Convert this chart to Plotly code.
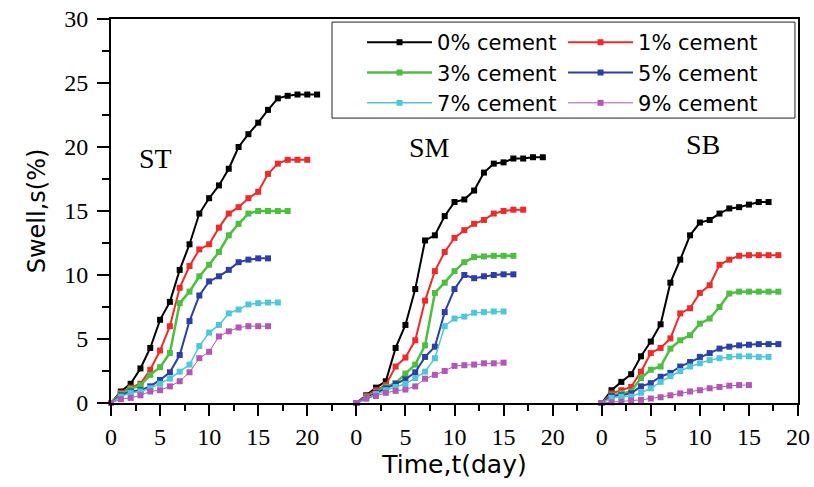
import plotly.graph_objects as go

# ---------------- data ----------------
DAYS = [0, 1, 2, 3, 4, 5, 6, 7, 8, 9, 10, 11, 12, 13, 14, 15, 16, 17, 18, 19, 20, 21]

SERIES = ["0% cement", "1% cement", "3% cement", "5% cement", "7% cement", "9% cement"]
COLORS = ["#000000", "#f02a2a", "#4cbf3f", "#2d3fa6", "#4ec8d8", "#b455b8"]
WIDTHS = [2, 2, 2.5, 2, 1.5, 1]
LEGEND_COL = ["legend", "legend2", "legend", "legend2", "legend", "legend2"]

PANELS = ["ST", "SM", "SB"]
PANEL_OFFSET = [0, 25, 50]          # each soil panel starts a new 0-20 day block
LABEL_POS = [(4.5, 19.1), (32.5, 20.0), (60.3, 20.2)]

# swell (%) per day, ST soil
ST_0 = [0, 0.9, 1.5, 2.7, 4.3, 6.5, 7.9, 10.4, 12.4, 14.8, 16.0, 17.0, 18.3, 20.0, 21.0, 21.9, 22.9, 23.8, 24.0, 24.1, 24.1, 24.1]
ST_1 = [0, 0.8, 1.2, 1.5, 2.6, 4.1, 6.0, 9.0, 10.7, 12.0, 12.4, 13.7, 14.8, 15.3, 16.0, 16.5, 17.9, 18.7, 19.0, 19.0, 19.0]
ST_3 = [0, 0.7, 1.1, 1.4, 2.2, 2.8, 3.9, 7.8, 8.7, 9.9, 10.8, 11.8, 13.1, 14.0, 14.8, 15.0, 15.0, 15.0, 15.0]
ST_5 = [0, 0.6, 0.9, 1.0, 1.3, 1.8, 2.4, 3.75, 6.4, 8.4, 9.5, 9.9, 10.4, 11.0, 11.2, 11.3, 11.3]
ST_7 = [0, 0.5, 0.8, 0.9, 1.15, 1.5, 1.9, 2.45, 3.0, 4.45, 5.5, 6.1, 7.0, 7.3, 7.7, 7.8, 7.85, 7.85]
ST_9 = [0, 0.3, 0.4, 0.6, 0.9, 1.0, 1.3, 1.7, 2.4, 3.5, 4.0, 5.2, 5.6, 5.9, 6.0, 6.0, 6.0]

# SM soil
SM_0 = [0, 0.6, 1.2, 1.7, 4.3, 6.1, 8.9, 12.7, 13.1, 14.6, 15.7, 15.9, 16.6, 18.0, 18.7, 18.8, 19.1, 19.1, 19.2, 19.2]
SM_1 = [0, 0.55, 1.0, 1.4, 2.85, 3.55, 4.9, 8.0, 10.3, 11.8, 12.9, 13.5, 14.0, 14.3, 14.8, 15.0, 15.1, 15.1]
SM_3 = [0, 0.45, 0.85, 1.27, 1.55, 2.3, 3.0, 4.5, 8.6, 9.4, 10.3, 11.0, 11.4, 11.45, 11.5, 11.5, 11.5]
SM_5 = [0, 0.4, 0.8, 1.15, 1.5, 1.85, 2.4, 3.6, 4.4, 7.1, 8.9, 10.0, 9.75, 9.9, 10.0, 10.05, 10.05]
SM_7 = [0, 0.35, 0.7, 1.0, 1.25, 1.5, 1.95, 2.45, 3.5, 6.0, 6.6, 6.75, 7.05, 7.1, 7.15, 7.15]
SM_9 = [0, 0.35, 0.55, 0.8, 0.95, 1.05, 1.3, 1.9, 2.2, 2.5, 2.9, 2.95, 3.0, 3.1, 3.1, 3.15]

# SB soil
SB_0 = [0, 1.0, 1.65, 2.25, 3.65, 4.8, 6.15, 9.4, 11.2, 13.1, 14.1, 14.3, 14.8, 15.2, 15.3, 15.5, 15.7, 15.7]
SB_1 = [0, 0.75, 1.0, 1.25, 2.45, 3.9, 4.3, 5.05, 7.0, 7.4, 8.6, 9.2, 10.8, 11.2, 11.5, 11.55, 11.55, 11.55, 11.55]
SB_3 = [0, 0.6, 0.75, 0.9, 1.95, 2.6, 2.85, 4.25, 4.9, 5.3, 6.2, 6.6, 7.5, 8.55, 8.7, 8.7, 8.7, 8.7, 8.7]
SB_5 = [0, 0.55, 0.6, 0.75, 1.3, 1.55, 2.05, 2.35, 2.85, 3.2, 3.6, 3.9, 4.25, 4.4, 4.5, 4.55, 4.6, 4.6, 4.6]
SB_7 = [0, 0.4, 0.5, 0.5, 0.8, 1.15, 1.65, 2.1, 2.5, 2.85, 3.1, 3.35, 3.5, 3.6, 3.65, 3.65, 3.6, 3.6]
SB_9 = [0, 0.05, 0.1, 0.2, 0.25, 0.35, 0.45, 0.6, 0.75, 0.9, 1.0, 1.15, 1.25, 1.35, 1.4, 1.4]

DATA = {
    "ST": [ST_0, ST_1, ST_3, ST_5, ST_7, ST_9],
    "SM": [SM_0, SM_1, SM_3, SM_5, SM_7, SM_9],
    "SB": [SB_0, SB_1, SB_3, SB_5, SB_7, SB_9],
}

X_TICKVALS = [0, 5, 10, 15, 20, 25, 30, 35, 40, 45, 50, 55, 60, 65, 70]
X_TICKTEXT = ["0", "5", "10", "15", "20"] * 3

# ---------------- figure ----------------
fig = go.Figure()
for p, panel in enumerate(PANELS):
    off = PANEL_OFFSET[p]
    for i, name in enumerate(SERIES):
        vals = DATA[panel][i]
        x = [d + off for d in DAYS[:len(vals)]]
        fig.add_trace(go.Scatter(
            x=x, y=vals, mode="lines+markers", name=name,
            legendgroup=name, showlegend=(p == 0), legend=LEGEND_COL[i],
            line=dict(color=COLORS[i], width=WIDTHS[i]),
            marker=dict(symbol="square", size=6, color=COLORS[i], line=dict(width=0)),
            cliponaxis=False,
        ))

for p, panel in enumerate(PANELS):
    fig.add_annotation(x=LABEL_POS[p][0], y=LABEL_POS[p][1], text=panel, showarrow=False,
                       font=dict(family="Liberation Serif", size=28, color="black"))

# legend frame
fig.add_shape(type="rect", xref="paper", yref="paper",
              x0=0.3217, x1=0.9956, y0=0.742, y1=0.992,
              line=dict(color="#222", width=1), fillcolor="white", layer="above")

axis_common = dict(
    showline=True, linewidth=2, linecolor="black", mirror=True,
    ticks="outside", tickwidth=2, tickcolor="black",
    showgrid=False, zeroline=False,
    tickfont=dict(family="Liberation Serif", size=24, color="black"),
)

legend_common = dict(
    orientation="v", yanchor="top", y=0.992, xanchor="left",
    itemwidth=65, bgcolor="rgba(0,0,0,0)", borderwidth=0,
    font=dict(family="DejaVu Sans", size=21, color="black"), traceorder="normal",
)

fig.update_layout(
    width=814, height=487,
    margin=dict(l=111, r=16, t=19, b=84, autoexpand=False),
    paper_bgcolor="white", plot_bgcolor="white",
    xaxis=dict(range=[0, 70], tickvals=X_TICKVALS, ticktext=X_TICKTEXT, ticklen=11,
               minor=dict(tick0=0, dtick=2.5, ticks="outside", ticklen=6, tickwidth=2, tickcolor="black"),
               title=dict(text="Time,t(day)", font=dict(family="DejaVu Sans", size=25, color="black"), standoff=4),
               **axis_common),
    yaxis=dict(range=[0, 30], tick0=0, dtick=5, ticklen=12, ticklabelstandoff=4,
               minor=dict(tick0=0, dtick=2.5, ticks="outside", ticklen=7, tickwidth=2, tickcolor="black"),
               title=dict(text="Swell,s(%)", font=dict(family="DejaVu Sans", size=24, color="black"), standoff=12),
               **axis_common),
    legend=dict(x=0.3654, **legend_common),
    legend2=dict(x=0.6580, **legend_common),
    showlegend=True,
)

fig.write_html("out.html")
